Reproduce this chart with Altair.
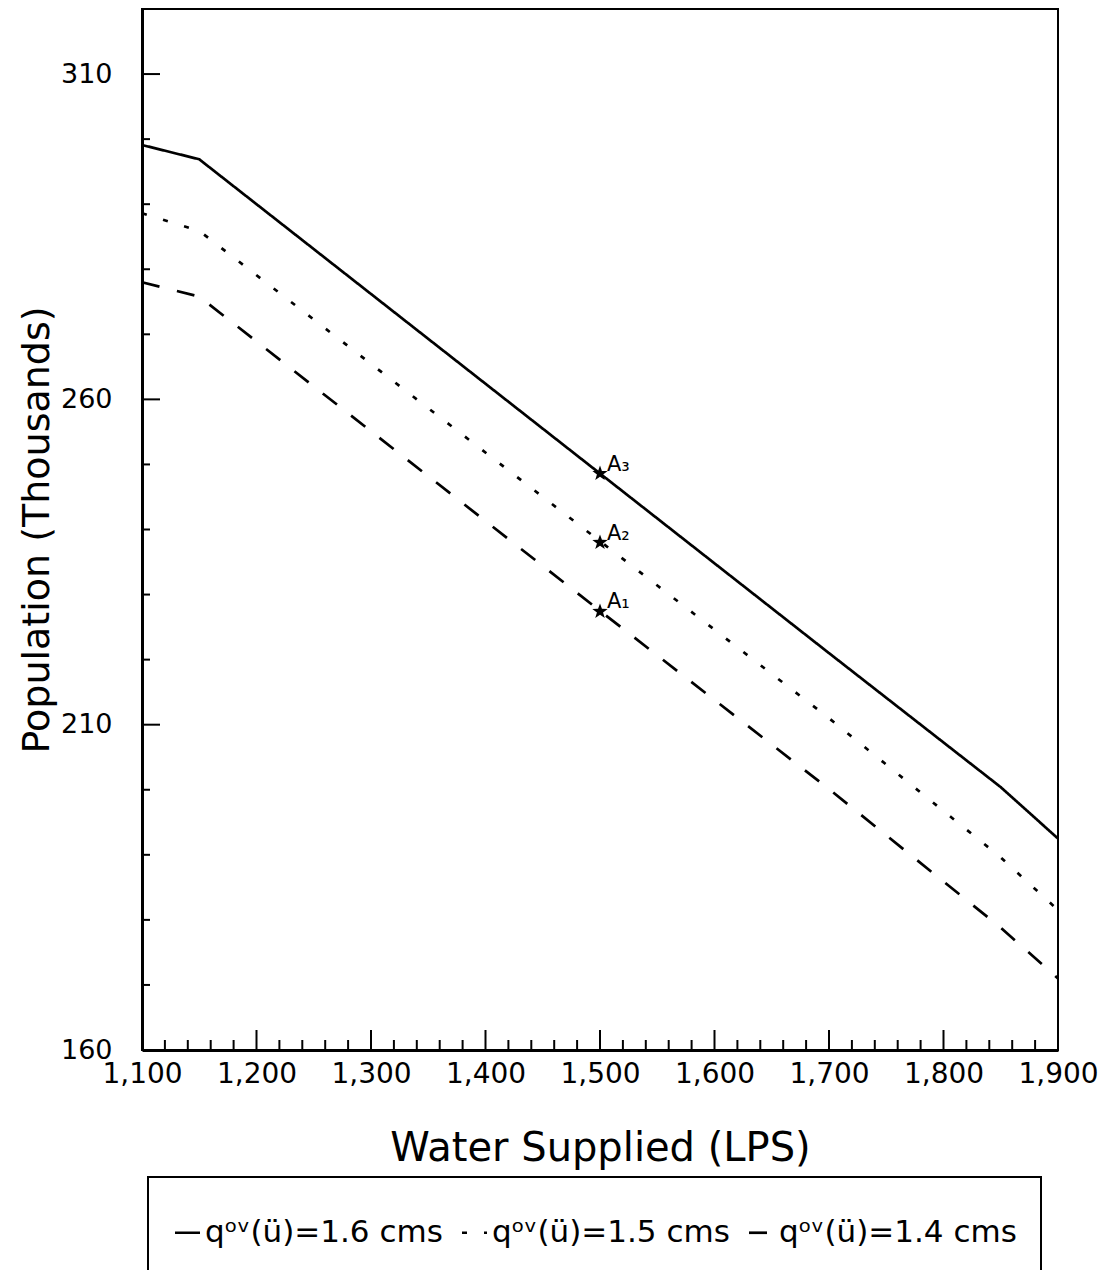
import altair as alt
import pandas as pd

# ---- data ----
lps = [1100, 1150, 1500, 1700, 1850, 1900]
pop_16 = [299.1, 296.9, 248.6, 221.0, 200.4, 192.5]
pop_15 = [288.6, 285.9, 238.2, 211.0, 189.6, 181.5]
pop_14 = [278.0, 275.8, 227.5, 200.1, 178.8, 171.0]
series_labels = ["qᵒᵛ(ü)=1.6 cms", "qᵒᵛ(ü)=1.5 cms", "qᵒᵛ(ü)=1.4 cms"]

point_lps = [1500, 1500, 1500]
point_pop = [248.6, 238.0, 227.4]
point_names = ["A₃", "A₂", "A₁"]

x_label_values = [1100, 1200, 1300, 1400, 1500, 1600, 1700, 1800, 1900]
y_label_values = [160, 210, 260, 310]
x_minor_values = [v for v in range(1100, 1901, 20) if v % 100 != 0]
y_minor_values = [v for v in range(160, 321, 10) if (v - 160) % 50 != 0]

W, H = 916, 1041

# ---- tables ----
rows = []
for name, vals in zip(series_labels, [pop_16, pop_15, pop_14]):
    for x, y in zip(lps, vals):
        rows.append({"lps": x, "pop": y, "series": name})
lines_df = pd.DataFrame(rows)
pts_df = pd.DataFrame({"lps": point_lps, "pop": point_pop, "name": point_names})

xs = alt.Scale(domain=[1100, 1900], nice=False, zero=False)
ys = alt.Scale(domain=[160, 320], nice=False, zero=False)

X = alt.X("lps:Q", scale=xs, axis=alt.Axis(
    values=x_label_values, format=",d", title="Water Supplied (LPS)",
    labelFont="DejaVu Sans", labelFontSize=28, labelPadding=10,
    titleFont="DejaVu Sans", titleFontSize=40, titleFontWeight="normal",
    titleX=W / 2, titleY=110, titleBaseline="alphabetic", titleAlign="center",
    labelFlush=False))
Y = alt.Y("pop:Q", scale=ys, axis=alt.Axis(
    values=y_label_values, title="Population (Thousands)",
    labelFont="DejaVu Sans", labelFontSize=27, labelPadding=30,
    titleFont="DejaVu Sans", titleFontSize=38, titleFontWeight="normal",
    titleAngle=-90, titleX=-94, titleY=H / 2, titleBaseline="alphabetic",
    titleAlign="center"))

lines = alt.Chart(lines_df).mark_line(color="black", strokeWidth=2.7).encode(
    x=X, y=Y,
    strokeDash=alt.StrokeDash(
        "series:N",
        scale=alt.Scale(domain=series_labels, range=[[1, 0], [5, 17], [18, 18]]),
        legend=alt.Legend(
            title=" ", titleFontSize=16, titlePadding=0,
            orient="none", legendX=6, legendY=1168, direction="horizontal",
            symbolType="stroke", symbolSize=625, symbolStrokeWidth=2.7,
            symbolStrokeColor="black",
            labelFont="DejaVu Sans", labelFontSize=31, labelColor="black",
            labelLimit=500, labelOffset=2, columnPadding=13,
            padding=24, strokeColor="black",
        ),
    ),
)

star_path = ("M0,-1L0.24,-0.33L0.95,-0.31L0.38,0.12L0.59,0.81L0,0.4"
             "L-0.59,0.81L-0.38,0.12L-0.95,-0.31L-0.24,-0.33Z")
stars = alt.Chart(pts_df).mark_point(
    shape=star_path, filled=True, color="black", size=260, opacity=1
).encode(x=X, y=Y)
names = alt.Chart(pts_df).mark_text(
    align="left", baseline="alphabetic", dx=7, dy=-3,
    font="DejaVu Sans", fontSize=21, color="black"
).encode(x=X, y=Y, text="name:N")

y_major = alt.Chart(pd.DataFrame({"pop": y_label_values})).mark_rule(
    color="black", strokeWidth=2).encode(y=Y, x=alt.value(0), x2=alt.value(18))
y_minor = alt.Chart(pd.DataFrame({"pop": y_minor_values})).mark_rule(
    color="black", strokeWidth=2).encode(y=Y, x=alt.value(0), x2=alt.value(8))
x_major = alt.Chart(pd.DataFrame({"lps": x_label_values})).mark_rule(
    color="black", strokeWidth=2).encode(x=X, y=alt.value(H), y2=alt.value(H - 20))
x_minor = alt.Chart(pd.DataFrame({"lps": x_minor_values})).mark_rule(
    color="black", strokeWidth=2).encode(x=X, y=alt.value(H), y2=alt.value(H - 10))

chart = alt.layer(lines, y_major, y_minor, x_major, x_minor, stars, names).properties(
    width=W, height=H, autosize="none",
    padding={"left": 134, "top": 1, "right": 47, "bottom": 220},
).configure_view(
    stroke="black", strokeWidth=2
).configure_axis(
    grid=False, ticks=False, domainColor="black", domainWidth=3,
    labelColor="black", titleColor="black"
).configure_legend(
    strokeWidth=2
)

chart.save("out.html", embed_options={"renderer": "svg", "actions": False})
